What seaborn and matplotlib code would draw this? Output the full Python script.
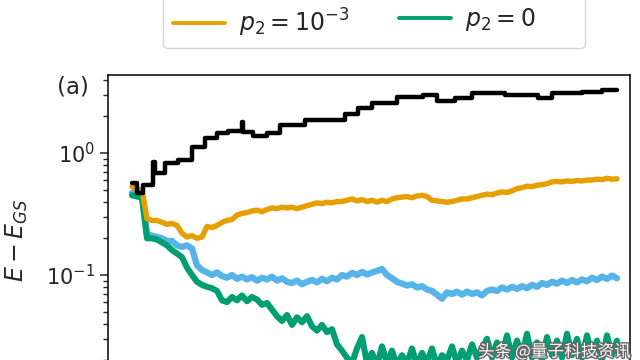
import numpy as np
import pandas as pd
import matplotlib
matplotlib.use("Agg")
import matplotlib.pyplot as plt
import matplotlib.patheffects as pe
from matplotlib.ticker import FixedLocator
import seaborn as sns

# ---------------- data ----------------
# noisy series sampled every 10 iterations
orange_vals = [0.53, 0.50, 0.50, 0.29, 0.28, 0.28, 0.27, 0.26, 0.265, 0.255,
               0.22, 0.205, 0.21, 0.20, 0.205, 0.25, 0.245, 0.255, 0.27, 0.28,
               0.285, 0.31, 0.32, 0.325, 0.335, 0.34, 0.33, 0.345, 0.355, 0.35,
               0.36, 0.355, 0.36, 0.35, 0.36, 0.37, 0.38, 0.39, 0.385, 0.395,
               0.39, 0.40, 0.40, 0.41, 0.42, 0.405, 0.415, 0.40, 0.41, 0.395,
               0.41, 0.40, 0.42, 0.43, 0.435, 0.44, 0.43, 0.445, 0.45, 0.44,
               0.41, 0.405, 0.40, 0.395, 0.40, 0.41, 0.42, 0.42, 0.43, 0.44,
               0.45, 0.46, 0.455, 0.47, 0.48, 0.475, 0.49, 0.51, 0.52, 0.535,
               0.53, 0.545, 0.55, 0.56, 0.58, 0.585, 0.58, 0.59, 0.585, 0.595,
               0.59, 0.60, 0.60, 0.61, 0.605, 0.62, 0.61, 0.615]

blue_vals = [0.47, 0.46, 0.45, 0.215, 0.21, 0.205, 0.20, 0.19, 0.19, 0.175,
             0.17, 0.175, 0.165, 0.12, 0.11, 0.105, 0.10, 0.105, 0.098, 0.095,
             0.10, 0.093, 0.097, 0.092, 0.096, 0.09, 0.095, 0.092, 0.097, 0.09,
             0.094, 0.088, 0.086, 0.09, 0.084, 0.088, 0.091, 0.087, 0.093, 0.089,
             0.095, 0.092, 0.10, 0.097, 0.104, 0.10, 0.106, 0.101, 0.105, 0.108,
             0.112, 0.10, 0.094, 0.088, 0.085, 0.082, 0.084, 0.079, 0.081, 0.076,
             0.074, 0.069, 0.064, 0.072, 0.07, 0.073, 0.069, 0.073, 0.07, 0.072,
             0.068, 0.074, 0.076, 0.074, 0.079, 0.076, 0.08, 0.077, 0.081, 0.078,
             0.083, 0.08, 0.086, 0.083, 0.088, 0.085, 0.09, 0.086, 0.091, 0.087,
             0.092, 0.089, 0.095, 0.091, 0.097, 0.093, 0.099, 0.094]

green_vals = [0.45, 0.44, 0.43, 0.20, 0.20, 0.195, 0.185, 0.175, 0.16, 0.15,
              0.14, 0.115, 0.10, 0.088, 0.083, 0.08, 0.078, 0.074, 0.062, 0.060,
              0.066, 0.062, 0.068, 0.061, 0.066, 0.063, 0.057, 0.059, 0.052, 0.046,
              0.042, 0.047, 0.039, 0.045, 0.041, 0.046, 0.038, 0.035, 0.039, 0.034,
              0.036, 0.027, 0.024, 0.021, 0.019, 0.025, 0.031, 0.019, 0.023, 0.018,
              0.026, 0.019, 0.024, 0.018, 0.022, 0.019, 0.025, 0.018, 0.023, 0.019,
              0.025, 0.018, 0.022, 0.02, 0.026, 0.019, 0.024, 0.02, 0.027, 0.021,
              0.025, 0.030, 0.021, 0.028, 0.022, 0.032, 0.021, 0.029, 0.022, 0.033,
              0.021, 0.028, 0.020, 0.031, 0.022, 0.029, 0.021, 0.033, 0.022, 0.030,
              0.021, 0.032, 0.022, 0.029, 0.020, 0.032, 0.022, 0.029]

iters = np.arange(len(orange_vals)) * 10

# black series: piecewise-constant (step) levels
black_x = [0, 10, 22, 42, 46, 66, 92, 120, 146, 170, 192, 220, 222, 242, 270,
           296, 346, 426, 452, 480, 530, 582, 610, 646, 680, 746, 812, 840,
           900, 940, 970]
black_y = [0.57, 0.47, 0.55, 0.84, 0.69, 0.83, 0.88, 1.12, 1.33, 1.46, 1.51,
           1.80, 1.49, 1.38, 1.46, 1.70, 1.86, 2.09, 2.34, 2.57, 2.88, 2.99,
           2.67, 2.83, 3.10, 2.99, 2.83, 3.10, 3.17, 3.28, 3.28]

# legend: its top row (black, blue) lies above the visible crop
labels = [r"$p_2=10^{-1}$", r"$p_2=10^{-3}$", r"$p_2=10^{-2}$", r"$p_2=0$"]
colors = ["#000000", "#E69F00", "#56B4E9", "#009E73"]
major_ticks = [0.1, 1.0]

# ---------------- figure ----------------
sns.set_style("ticks")
plt.rcParams["font.family"] = ["DejaVu Sans"]
plt.rcParams["mathtext.fontset"] = "dejavusans"

fig = plt.figure(figsize=(6.4, 3.6), dpi=100)
ax = fig.add_axes([108 / 640, -45 / 360, 522 / 640, 330 / 360])

sns.lineplot(x=iters, y=blue_vals, ax=ax, color=colors[2], lw=4.6,
             estimator=None, label=labels[2])
sns.lineplot(x=iters, y=green_vals, ax=ax, color=colors[3], lw=4.4,
             estimator=None, label=labels[3])
sns.lineplot(x=iters, y=orange_vals, ax=ax, color=colors[1], lw=3.9,
             estimator=None, label=labels[1])
sns.lineplot(x=black_x, y=black_y, ax=ax, color=colors[0], lw=3.2,
             estimator=None, drawstyle="steps-post", label=labels[0])

ax.set_yscale("log")
ax.set_ylim(0.0086, 4.36)
ax.set_xlim(-48, 996)
ax.set_xticks([])
ax.yaxis.set_major_locator(FixedLocator(major_ticks))
for s in ax.spines.values():
    s.set_linewidth(1.1)
    s.set_color("black")
    s.set_visible(True)
ax.tick_params(axis="y", which="major", length=6, width=1.1, labelsize=15)
ax.tick_params(axis="y", which="minor", length=3.5, width=1.0)
ax.set_ylabel(r"$E - E_{GS}$", fontsize=17)
ax.yaxis.set_label_coords(-0.15, 0.5)

h, l = ax.get_legend_handles_labels()
hmap = dict(zip(l, h))
ax.get_legend().remove()
leg = fig.legend([hmap[k] for k in labels], labels, ncol=2,
                 loc="lower center", bbox_to_anchor=(374 / 640, 1 - 48 / 360),
                 borderaxespad=0.0,
                 fontsize=17, handlelength=2.2, columnspacing=2.1,
                 handletextpad=0.6, labelspacing=1.3,
                 frameon=True, fancybox=True)
for line in leg.get_lines():
    line.set_linewidth(2.8)

fig.text(57 / 640, 1 - 87 / 360, "(a)", fontsize=16.5, va="center", ha="left")

fig.text(478 / 640, 8 / 360, "头条 @量子科技资讯", fontsize=12, color="white",
         va="center", ha="left",
         family=["Noto Sans CJK SC", "DejaVu Sans"],
         path_effects=[pe.withStroke(linewidth=2, foreground="#666666")])

fig.savefig("out.png", dpi=100)
